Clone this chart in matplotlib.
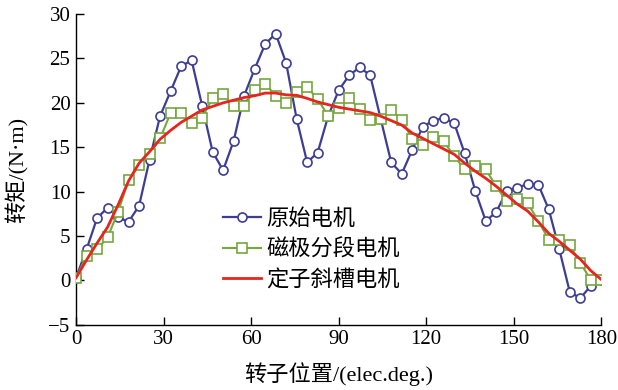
import numpy as np
import matplotlib
matplotlib.use("Agg")
import matplotlib.pyplot as plt

plt.rcParams['font.family'] = ['Liberation Serif', 'Noto Sans CJK SC']
plt.rcParams['axes.unicode_minus'] = True

# rotor position, electrical degrees (51 samples, 3.6 deg apart)
position = np.linspace(0, 180, 51)

# 原始电机
torque_original = [0.3, 3.5, 7.0, 8.2, 7.1, 6.6, 8.4, 13.6, 18.5, 21.3,
                   24.1, 24.8, 19.7, 14.5, 12.4, 15.7, 20.8, 23.8, 26.6, 27.8,
                   24.5, 18.2, 13.3, 14.4, 18.5, 21.4, 23.1, 24.0, 23.1, 18.2,
                   13.3, 12.0, 14.7, 17.3, 18.0, 18.3, 17.7, 14.3, 10.1, 6.7,
                   7.7, 10.1, 10.4, 10.9, 10.8, 8.0, 3.5, -1.3, -2.0, -0.6,
                   0.0]

# 磁极分段电机
torque_segmented = [0.3, 2.75, 3.5, 4.85, 7.7, 11.3, 13.0, 14.2, 16.0, 18.85,
                    18.85, 17.7, 18.35, 20.5, 20.95, 19.6, 19.6, 21.45, 22.15, 20.8,
                    20.0, 21.2, 21.8, 20.4, 18.55, 19.4, 20.5, 19.3, 18.05, 18.15,
                    19.2, 18.1, 15.95, 15.3, 16.15, 15.65, 14.0, 12.5, 12.9, 12.5,
                    10.6, 8.9, 9.2, 8.7, 6.7, 4.6, 4.55, 3.95, 2.0, 0.05,
                    0.05]

# 定子斜槽电机
torque_skewed = [0.3, 2.3, 4.2, 6.0, 8.5, 11.2, 13.2, 14.5, 15.9, 16.9,
                 17.8, 18.5, 19.2, 19.6, 20.0, 20.3, 20.6, 20.8, 21.1, 21.1,
                 20.9, 20.85, 20.5, 20.1, 19.8, 19.5, 19.3, 19.1, 18.9, 18.5,
                 18.0, 17.5, 16.6, 16.0, 15.4, 14.8, 14.2, 13.2, 12.3, 11.5,
                 10.6, 9.6, 8.6, 7.8, 6.6, 5.3, 4.4, 3.4, 2.4, 1.1,
                 0.1]

labels = ['原始电机', '磁极分段电机', '定子斜槽电机']
xticks = [0, 30, 60, 90, 120, 150, 180]
yticks = [-5, 0, 5, 10, 15, 20, 25, 30]

fig = plt.figure(figsize=(6.18, 3.9), dpi=100)
ax = fig.add_axes([0.123, 0.167, 0.850, 0.797])

ax.plot(position, torque_original, color='#3d3d94', lw=1.6, marker='o',
        ms=6.5, mfc='white', mec='#3d3d94', mew=1.2, label=labels[0], zorder=2)
ax.plot(position, torque_segmented, color='#74a83e', lw=1.5, marker='s',
        ms=7, mfc='white', mec='#74a83e', mew=1.2, label=labels[1], zorder=3)
ax.plot(position, torque_skewed, color='#e8241e', lw=2.0,
        label=labels[2], zorder=4)

ax.set_xlim(0, 180)
ax.set_ylim(-5, 30)
ax.set_xticks(xticks)
ax.set_yticks(yticks)
ax.tick_params(direction='in', length=6, width=1, labelsize=15, pad=4)
ax.spines['top'].set_visible(False)
ax.spines['right'].set_visible(False)
for s in ['left', 'bottom']:
    ax.spines[s].set_linewidth(1.0)

ax.set_xlabel('转子位置/(elec.deg.)', fontsize=16, labelpad=9)
ax.set_ylabel('转矩/(N·m)', fontsize=16, labelpad=14)

ax.legend(loc='center left', bbox_to_anchor=(0.28, 0.24), frameon=False,
          fontsize=16, handlelength=1.7, handletextpad=0.25,
          labelspacing=0.42, borderpad=0, borderaxespad=0)

fig.savefig('out.png', dpi=100)
